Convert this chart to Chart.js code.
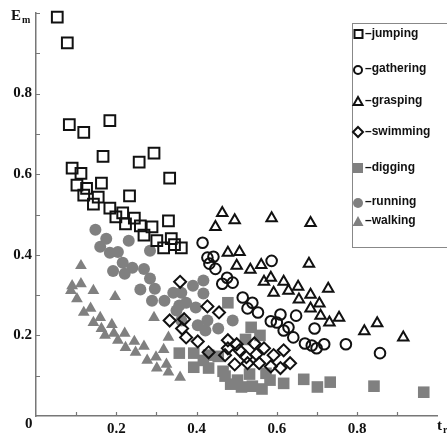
<!DOCTYPE html>
<html>
<head>
<meta charset="utf-8">
<script src="https://cdn.jsdelivr.net/npm/chart.js@4/dist/chart.umd.min.js"></script>
<style>
html, body { margin: 0; padding: 0; background: #fff; }
#wrap { width: 447px; height: 436px; }
</style>
</head>
<body>
<div id="wrap"><canvas id="grafico"></canvas></div>
<script>
// valores [t, Em]
var jumping = [[0.053,0.990],[0.078,0.926],[0.083,0.723],[0.119,0.704],[0.184,0.733],[0.167,0.644],
  [0.257,0.630],[0.294,0.652],[0.090,0.615],[0.112,0.602],[0.163,0.578],[0.333,0.590],[0.102,0.573],
  [0.126,0.565],[0.119,0.548],[0.233,0.546],[0.155,0.543],[0.143,0.526],[0.184,0.516],[0.216,0.504],
  [0.199,0.494],[0.245,0.491],[0.223,0.477],[0.260,0.472],[0.289,0.469],[0.330,0.484],[0.269,0.449],
  [0.301,0.435],[0.337,0.440],[0.345,0.425],[0.362,0.417],[0.318,0.417]];
var gathering = [[0.415,0.430],[0.427,0.393],[0.442,0.395],[0.432,0.378],[0.447,0.365],[0.476,0.343],
  [0.490,0.331],[0.464,0.328],[0.587,0.385],[0.515,0.294],[0.539,0.281],[0.527,0.267],[0.553,0.257],
  [0.585,0.235],[0.600,0.232],[0.609,0.252],[0.617,0.212],[0.629,0.220],[0.641,0.195],[0.648,0.249],
  [0.694,0.217],[0.670,0.180],[0.687,0.175],[0.699,0.168],[0.718,0.178],[0.772,0.178],[0.857,0.156]];
var grasping = [[0.464,0.504],[0.495,0.486],[0.447,0.469],[0.587,0.491],[0.684,0.479],[0.478,0.405],
  [0.507,0.407],[0.500,0.373],[0.534,0.363],[0.561,0.375],[0.680,0.378],[0.568,0.333],[0.585,0.343],
  [0.617,0.333],[0.592,0.306],[0.629,0.311],[0.653,0.321],[0.728,0.316],[0.655,0.289],[0.684,0.301],
  [0.706,0.279],[0.684,0.267],[0.709,0.249],[0.731,0.232],[0.755,0.244],[0.818,0.210],[0.850,0.230],
  [0.915,0.195]];
var swimming = [[0.359,0.333],[0.333,0.237],[0.369,0.240],[0.364,0.217],[0.374,0.195],[0.403,0.185],
  [0.427,0.272],[0.456,0.257],[0.430,0.158],[0.478,0.188],[0.500,0.178],[0.478,0.168],[0.507,0.163],
  [0.471,0.151],[0.544,0.180],[0.568,0.168],[0.549,0.153],[0.592,0.151],[0.617,0.163],[0.524,0.146],
  [0.495,0.128],[0.527,0.131],[0.556,0.131],[0.585,0.123],[0.609,0.119],[0.633,0.131]];
var digging = [[0.478,0.281],[0.536,0.220],[0.558,0.200],[0.522,0.190],[0.357,0.156],[0.393,0.156],
  [0.430,0.151],[0.454,0.148],[0.417,0.138],[0.393,0.121],[0.430,0.119],[0.466,0.111],[0.471,0.099],
  [0.502,0.089],[0.532,0.104],[0.485,0.079],[0.512,0.072],[0.539,0.074],[0.563,0.067],[0.573,0.106],
  [0.583,0.089],[0.617,0.081],[0.667,0.091],[0.701,0.072],[0.733,0.084],[0.842,0.074],[0.966,0.059]];
var running = [[0.148,0.462],[0.175,0.440],[0.160,0.420],[0.184,0.405],[0.204,0.407],[0.231,0.435],
  [0.284,0.410],[0.216,0.380],[0.192,0.360],[0.221,0.353],[0.240,0.368],[0.269,0.365],[0.284,0.341],
  [0.260,0.314],[0.296,0.316],[0.289,0.286],[0.320,0.286],[0.342,0.306],[0.357,0.274],[0.417,0.336],
  [0.391,0.323],[0.362,0.306],[0.417,0.304],[0.374,0.281],[0.398,0.269],[0.350,0.262],[0.362,0.237],
  [0.403,0.225],[0.427,0.237],[0.454,0.217],[0.490,0.237],[0.422,0.212]];
var walking = [[0.112,0.373],[0.090,0.323],[0.112,0.328],[0.087,0.311],[0.102,0.291],[0.143,0.311],
  [0.197,0.296],[0.119,0.257],[0.136,0.267],[0.160,0.244],[0.143,0.232],[0.163,0.217],[0.189,0.227],
  [0.194,0.205],[0.172,0.200],[0.221,0.205],[0.204,0.188],[0.245,0.185],[0.269,0.173],[0.223,0.170],
  [0.248,0.158],[0.294,0.244],[0.330,0.195],[0.318,0.165],[0.277,0.138],[0.299,0.146],[0.325,0.128],
  [0.301,0.119],[0.330,0.109],[0.359,0.096]];

var nombres = ['jumping', 'gathering', 'grasping', 'swimming', 'digging', 'running', 'walking'];
var etiquetasEje = [0.2, 0.4, 0.6, 0.8];

var NEGRO = '#111';
var GRIS = '#808080';
var FUENTE_EJE = 'bold 15px "Liberation Serif", "DejaVu Serif", serif';

function puntos(lista) {
    return lista.map(function(p) { return { x: p[0], y: p[1] }; });
}

function serieAbierta(nombre, datos, estilo, radio) {
    return {
        label: nombre, data: puntos(datos), pointStyle: estilo, pointRadius: radio, pointHoverRadius: radio,
        backgroundColor: 'rgba(0,0,0,0)', borderColor: NEGRO, borderWidth: 2, clip: false
    };
}

function serieLlena(nombre, datos, estilo, radio) {
    return {
        label: nombre, data: puntos(datos), pointStyle: estilo, pointRadius: radio, pointHoverRadius: radio,
        backgroundColor: GRIS, borderColor: GRIS, borderWidth: 0, clip: false
    };
}

// ticks hacia dentro, textos y leyenda
var decoracion = {
    id: 'decoracion',
    afterDraw: function(chart) {
        var ctx = chart.ctx;
        var xs = chart.scales.x, ys = chart.scales.y;
        var area = chart.chartArea;
        ctx.save();
        ctx.strokeStyle = '#777';
        ctx.lineWidth = 1.2;
        ctx.beginPath();
        for (var i = 1; i <= 10; i++) {
            var v = i / 10;
            var px = Math.round(xs.getPixelForValue(v)) + 0.5;
            if (px < area.right) { ctx.moveTo(px, area.bottom); ctx.lineTo(px, area.bottom - 4); }
            var py = Math.round(ys.getPixelForValue(v)) + 0.5;
            ctx.moveTo(area.left, py); ctx.lineTo(area.left + 4, py);
        }
        ctx.stroke();

        ctx.fillStyle = '#111';
        ctx.font = FUENTE_EJE;
        ctx.textBaseline = 'alphabetic';
        ctx.textAlign = 'left';
        ctx.fillText('0', 25, 428);
        ctx.fillText('E', 11, 20);
        ctx.font = 'bold 10px "Liberation Serif", serif';
        ctx.fillText('m', 22, 23);
        ctx.font = FUENTE_EJE;
        ctx.fillText('t', 437, 430);
        ctx.font = 'bold 10px "Liberation Serif", serif';
        ctx.fillText('r', 443, 433);

        // leyenda
        ctx.strokeStyle = '#888';
        ctx.lineWidth = 1;
        ctx.strokeRect(352.5, 23.5, 110, 224);
        var filas = [34, 69, 101, 132, 168, 202, 221];
        ctx.font = 'bold 12px "Liberation Sans", Arial, sans-serif';
        ctx.textBaseline = 'middle';
        for (var k = 0; k < nombres.length; k++) {
            var y = filas[k], x = 358;
            ctx.lineWidth = 2;
            ctx.strokeStyle = NEGRO;
            ctx.fillStyle = GRIS;
            ctx.beginPath();
            if (k === 0) { ctx.rect(354.5, y - 4, 8, 8); ctx.stroke(); }
            else if (k === 1) { ctx.arc(x, y + 1, 4, 0, Math.PI * 2); ctx.stroke(); }
            else if (k === 2) { ctx.moveTo(x, y - 4); ctx.lineTo(x + 4.5, y + 4); ctx.lineTo(x - 4.5, y + 4); ctx.closePath(); ctx.stroke(); }
            else if (k === 3) { ctx.moveTo(x, y - 5); ctx.lineTo(x + 5, y); ctx.lineTo(x, y + 5); ctx.lineTo(x - 5, y); ctx.closePath(); ctx.stroke(); }
            else if (k === 4) { ctx.rect(353, y - 5, 10, 10); ctx.fill(); }
            else if (k === 5) { ctx.arc(x, y + 1, 5, 0, Math.PI * 2); ctx.fill(); }
            else { ctx.moveTo(x, y - 5); ctx.lineTo(x + 5.5, y + 5); ctx.lineTo(x - 5.5, y + 5); ctx.closePath(); ctx.fill(); }
            ctx.fillStyle = '#111';
            ctx.fillText('\u2013' + nombres[k], 365, y);
        }
        ctx.restore();
    }
};

function ejeComun(minimo, maximo) {
    return {
        type: 'linear', min: minimo, max: maximo,
        grid: { display: false, drawTicks: false, tickLength: 0 },
        border: { display: true, color: '#777', width: 1.5 },
        afterBuildTicks: function(eje) {
            eje.ticks = etiquetasEje.map(function(v) { return { value: v }; });
        },
        ticks: {
            color: '#111',
            font: { family: '"Liberation Serif", "DejaVu Serif", serif', size: 15, weight: 'bold' },
            callback: function(v) { return v.toFixed(1); }
        }
    };
}

var ejeX = ejeComun(0, 1.0);
ejeX.ticks.padding = 4;
ejeX.ticks.maxRotation = 0;
ejeX.afterFit = function(eje) { eje.height = 20; };

var ejeY = ejeComun(0, 1.0);
ejeY.ticks.padding = 4;
ejeY.afterFit = function(eje) { eje.width = 36; };

new Chart(document.getElementById('grafico'), {
    type: 'scatter',
    data: {
        datasets: [
            serieAbierta(nombres[0], jumping, 'rect', 7.6),
            serieAbierta(nombres[1], gathering, 'circle', 5.3),
            serieAbierta(nombres[2], grasping, 'triangle', 6),
            serieAbierta(nombres[3], swimming, 'rectRot', 6),
            serieLlena(nombres[4], digging, 'rect', 8.2),
            serieLlena(nombres[5], running, 'circle', 6),
            serieLlena(nombres[6], walking, 'triangle', 6.8)
        ]
    },
    options: {
        responsive: true,
        maintainAspectRatio: false,
        animation: false,
        layout: { padding: { top: 11, right: 0, left: 0, bottom: 0 } },
        plugins: { legend: { display: false }, tooltip: { enabled: false } },
        scales: { x: ejeX, y: ejeY }
    },
    plugins: [decoracion]
});
</script>
</body>
</html>
